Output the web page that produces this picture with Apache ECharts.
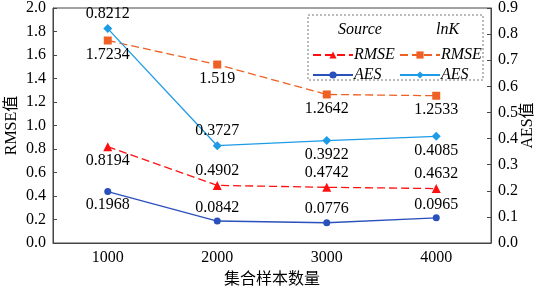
<!DOCTYPE html>
<html>
<head>
<meta charset="utf-8">
<script src="https://cdn.jsdelivr.net/npm/echarts@6/dist/echarts.min.js"></script>
<style>
  html, body { margin: 0; padding: 0; background: #fff; }
  #chart { width: 543px; height: 290px; }
</style>
</head>
<body>
<div id="chart"></div>
<script>
// sample sizes on the x axis
const categories = ['1000', '2000', '3000', '4000'];

// RMSE (left axis)
const sourceRmse = [0.8194, 0.4902, 0.4742, 0.4632];
const lnkRmse = [1.7234, 1.519, 1.2642, 1.2533];

// AES (right axis)
const sourceAes = [0.1968, 0.0842, 0.0776, 0.0965];
const lnkAes = [0.8212, 0.3727, 0.3922, 0.4085];

const FONT = "'Liberation Serif', 'Noto Sans CJK SC', serif";

// where each point's value label sits
const labelSide = {
    sourceRmse: ['bottom', 'top', 'top', 'top'],
    lnkRmse: ['bottom', 'bottom', 'bottom', 'bottom'],
    sourceAes: ['bottom', 'top', 'top', 'top'],
    lnkAes: ['top', 'top', 'bottom', 'bottom']
};

const makeSeries = (name, key, values, yIndex, color, symbol, size, dashed) => ({
    name: name,
    type: 'line',
    yAxisIndex: yIndex,
    symbol: symbol,
    symbolSize: size,
    color: color,
    lineStyle: { color: color, width: 1.3, type: dashed ? [8, 4] : 'solid' },
    itemStyle: { color: color },
    data: values.map((v, i) => ({
        value: v,
        label: { show: true, position: labelSide[key][i], distance: 2 }
    })),
    label: { fontFamily: FONT, fontSize: 16, color: '#000', formatter: p => String(p.value) }
});

const chart = echarts.init(document.getElementById('chart'), null, { renderer: 'canvas' });

const legendItem = (name, left, top) => ({
    data: [name],
    left: left,
    top: top,
    itemWidth: 40,
    itemHeight: 9,
    itemGap: 0,
    selectedMode: false,
    formatter: n => n.split(' ')[1],
    textStyle: { fontFamily: FONT, fontSize: 16, fontStyle: 'italic', color: '#000', padding: [0, 0, 0, -4] }
});

chart.setOption({
    animation: false,
    grid: {
        left: 53, right: 52, top: 8, bottom: 47,
        outerBoundsMode: 'none',
        show: true, borderColor: '#444', borderWidth: 1
    },
    legend: [
        legendItem('Source RMSE', 307, 42),
        legendItem('lnK RMSE', 394, 42),
        legendItem('Source AES', 307, 62),
        legendItem('lnK AES', 394, 62)
    ],
    graphic: [
        {
            type: 'rect',
            shape: { x: 308, y: 15, width: 175, height: 65 },
            style: { fill: '#fff', stroke: '#777', lineWidth: 1, lineDash: [2, 2] },
            z: 0
        },
        {
            type: 'text', left: 338, top: 22, z: 10,
            style: { text: 'Source', font: 'italic 16px ' + FONT, fill: '#000' }
        },
        {
            type: 'text', left: 436, top: 22, z: 10,
            style: { text: 'lnK', font: 'italic 16px ' + FONT, fill: '#000' }
        }
    ],
    xAxis: {
        type: 'category',
        data: categories,
        boundaryGap: true,
        name: '集合样本数量',
        nameLocation: 'middle',
        nameGap: 29,
        nameTextStyle: { fontFamily: FONT, fontSize: 16, color: '#000' },
        axisLine: { lineStyle: { color: '#444' } },
        axisTick: { show: false },
        axisLabel: { fontFamily: FONT, fontSize: 16, color: '#000', margin: 7 }
    },
    yAxis: [
        {
            type: 'value',
            min: 0, max: 2.0, interval: 0.2,
            name: 'RMSE值',
            nameLocation: 'middle',
            nameRotate: 90,
            nameGap: 33,
            nameMoveOverlap: false,
            nameTextStyle: { fontFamily: FONT, fontSize: 16, color: '#000' },
            axisLine: { show: true, lineStyle: { color: '#444' } },
            axisTick: { show: true, inside: true, length: 4, lineStyle: { color: '#444' } },
            splitLine: { show: false },
            axisLabel: { fontFamily: FONT, fontSize: 16, color: '#000', margin: 7, formatter: v => v.toFixed(1) }
        },
        {
            type: 'value',
            min: 0, max: 0.9, interval: 0.1,
            name: 'AES值',
            nameLocation: 'middle',
            nameRotate: 90,
            nameGap: 29,
            nameMoveOverlap: false,
            nameTextStyle: { fontFamily: FONT, fontSize: 16, color: '#000' },
            axisLine: { show: true, lineStyle: { color: '#444' } },
            axisTick: { show: true, inside: true, length: 4, lineStyle: { color: '#444' } },
            splitLine: { show: false },
            axisLabel: { fontFamily: FONT, fontSize: 16, color: '#000', margin: 7, formatter: v => v.toFixed(1) }
        }
    ],
    series: [
        makeSeries('Source RMSE', 'sourceRmse', sourceRmse, 0, '#ff1010', 'triangle', 9, true),
        makeSeries('lnK RMSE', 'lnkRmse', lnkRmse, 0, '#ee6024', 'rect', 8, true),
        makeSeries('Source AES', 'sourceAes', sourceAes, 1, '#2a50bc', 'circle', 7, false),
        makeSeries('lnK AES', 'lnkAes', lnkAes, 1, '#1e9be6', 'diamond', 9, false)
    ]
});
</script>
</body>
</html>
